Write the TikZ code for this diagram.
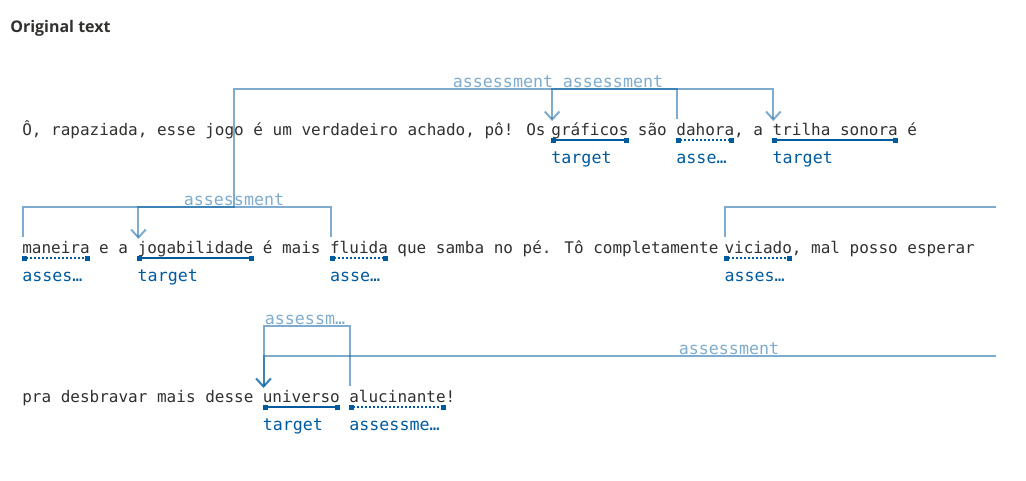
\documentclass[tikz,border=0pt]{standalone}
\usepackage{fontspec}
\usepackage{tikz}
\usetikzlibrary{positioning,arrows.meta,calc}
\usepackage{xcolor}
\newfontfamily\monofont{DejaVu Sans Mono}
\newfontfamily\headfont{Open Sans}
\definecolor{TextGray}{RGB}{50,49,48}
\definecolor{SpanBlue}{RGB}{0,90,158}
\def\cw{9.62}

\begin{document}
\begin{tikzpicture}[
    x=0.75pt, y=-0.75pt,
    word/.style={inner sep=0pt, anchor=base west, text=TextGray,
                 font=\monofont\fontsize{12}{14}\selectfont},
    tag/.style={inner sep=0pt, anchor=base west, text=SpanBlue,
                font=\monofont\fontsize{12.5}{14}\selectfont},
    tgtspan/.style={draw=SpanBlue, line width=1.5pt,
                    arrows={Square[length=3.75pt,width=3.75pt]-Square[length=3.75pt,width=3.75pt]}},
    asmspan/.style={tgtspan, dash pattern=on 1.5pt off 1.5pt},
    rel/.style={draw=SpanBlue, draw opacity=0.5, line width=1.5pt},
    relarrow/.style={rel, arrows={-Straight Barb[length=6pt,width=11pt]}},
    rellabel/.style={inner sep=0pt, anchor=base, text=SpanBlue, text opacity=0.5,
                     font=\monofont\fontsize{12.5}{14}\selectfont},
]
    \fill[white] (0,0) rectangle (1026,480);
    \useasboundingbox (0,0) rectangle (1026,480);

    \node[anchor=base west, inner sep=0pt, text=TextGray,
          font=\headfont\bfseries\fontsize{12}{14}\selectfont] (title) at (10,32) {Original text};

    % line 1
    \node[word] (l1a) at (22,135) {Ô, rapaziada, esse jogo é um verdadeiro achado, pô! Os};
    \node[word] (gra) at ({22+55*\cw},135) {gráficos};
    \node[word] (l1b) at ({22+64*\cw},135) {são};
    \node[word] (dah) at ({22+68*\cw},135) {dahora};
    \node[word] (l1c) at ({22+74*\cw},135) {, a};
    \node[word] (tri) at ({22+78*\cw},135) {trilha sonora};
    \node[word] (l1d) at ({22+92*\cw},135) {é};

    % line 2
    \node[word] (man) at (22,253) {maneira};
    \node[word] (l2a) at ({22+8*\cw},253) {e a};
    \node[word] (jog) at ({22+12*\cw},253) {jogabilidade};
    \node[word] (l2b) at ({22+25*\cw},253) {é mais};
    \node[word] (flu) at ({22+32*\cw},253) {fluida};
    \node[word] (l2c) at ({22+39*\cw},253) {que samba no pé. Tô completamente};
    \node[word] (vic) at ({22+73*\cw},253) {viciado};
    \node[word] (l2d) at ({22+80*\cw},253) {, mal posso esperar};

    % line 3
    \node[word] (l3a) at (22,402) {pra desbravar mais desse};
    \node[word] (uni) at ({22+25*\cw},402) {universo};
    \node[word] (alu) at ({22+34*\cw},402) {alucinante};
    \node[word] (l3b) at ({22+44*\cw},402) {!};

    % spans and their tags
    \draw[tgtspan] ([shift={(0,5)}]gra.base west) -- ([shift={(0,5)}]gra.base east);
    \draw[asmspan] ([shift={(0,5)}]dah.base west) -- ([shift={(0,5)}]dah.base east);
    \draw[tgtspan] ([shift={(0,5)}]tri.base west) -- ([shift={(0,5)}]tri.base east);
    \draw[asmspan] ([shift={(0,5)}]man.base west) -- ([shift={(0,5)}]man.base east);
    \draw[tgtspan] ([shift={(0,5)}]jog.base west) -- ([shift={(0,5)}]jog.base east);
    \draw[asmspan] ([shift={(0,5)}]flu.base west) -- ([shift={(0,5)}]flu.base east);
    \draw[asmspan] ([shift={(0,5)}]vic.base west) -- ([shift={(0,5)}]vic.base east);
    \draw[tgtspan] ([shift={(0,5)}]uni.base west) -- ([shift={(0,5)}]uni.base east);
    \draw[asmspan] ([shift={(0,5)}]alu.base west) -- ([shift={(0,5)}]alu.base east);

    \node[tag] (gra-t) at ([shift={(0,28)}]gra.base west) {target};
    \node[tag] (dah-t) at ([shift={(0,28)}]dah.base west) {asse…};
    \node[tag] (tri-t) at ([shift={(0,28)}]tri.base west) {target};
    \node[tag] (man-t) at ([shift={(0,28)}]man.base west) {asses…};
    \node[tag] (jog-t) at ([shift={(0,28)}]jog.base west) {target};
    \node[tag] (flu-t) at ([shift={(0,28)}]flu.base west) {asse…};
    \node[tag] (vic-t) at ([shift={(0,28)}]vic.base west) {asses…};
    \node[tag] (uni-t) at ([shift={(0,28)}]uni.base west) {target};
    \node[tag] (alu-t) at ([shift={(0,28)}]alu.base west) {assessme…};

    % relations
    \draw[relarrow] ([shift={(1,-16)}]dah.base west) -- ++(0,-30) -| ([shift={(1,-14)}]gra.base west);
    \draw[relarrow] ([shift={(1,-16)}]man.base west) |- (234,207) |- ([shift={(1,-46)}]tri.base west)
        -- ([shift={(1,-14)}]tri.base west);
    \draw[relarrow] ([shift={(1,-16)}]flu.base west) -- ++(0,-30) -| ([shift={(1,-14)}]jog.base west);
    \draw[rel] ([shift={(1,-16)}]vic.base west) |- (996,207);
    \draw[relarrow] (996,356) -| ([shift={(1,-14)}]uni.base west);
    \draw[relarrow] ([shift={(1,-16)}]alu.base west) -- ++(0,-60) -| ([shift={(1,-14)}]uni.base west);

    \node[rellabel] (r-dah) at (613,87) {assessment};
    \node[rellabel] (r-man) at (503,87) {assessment};
    \node[rellabel] (r-flu) at (234,205) {assessment};
    \node[rellabel] (r-vic) at (729,354) {assessment};
    \node[rellabel] (r-alu) at (305,324) {assessm…};
\end{tikzpicture}
\end{document}
